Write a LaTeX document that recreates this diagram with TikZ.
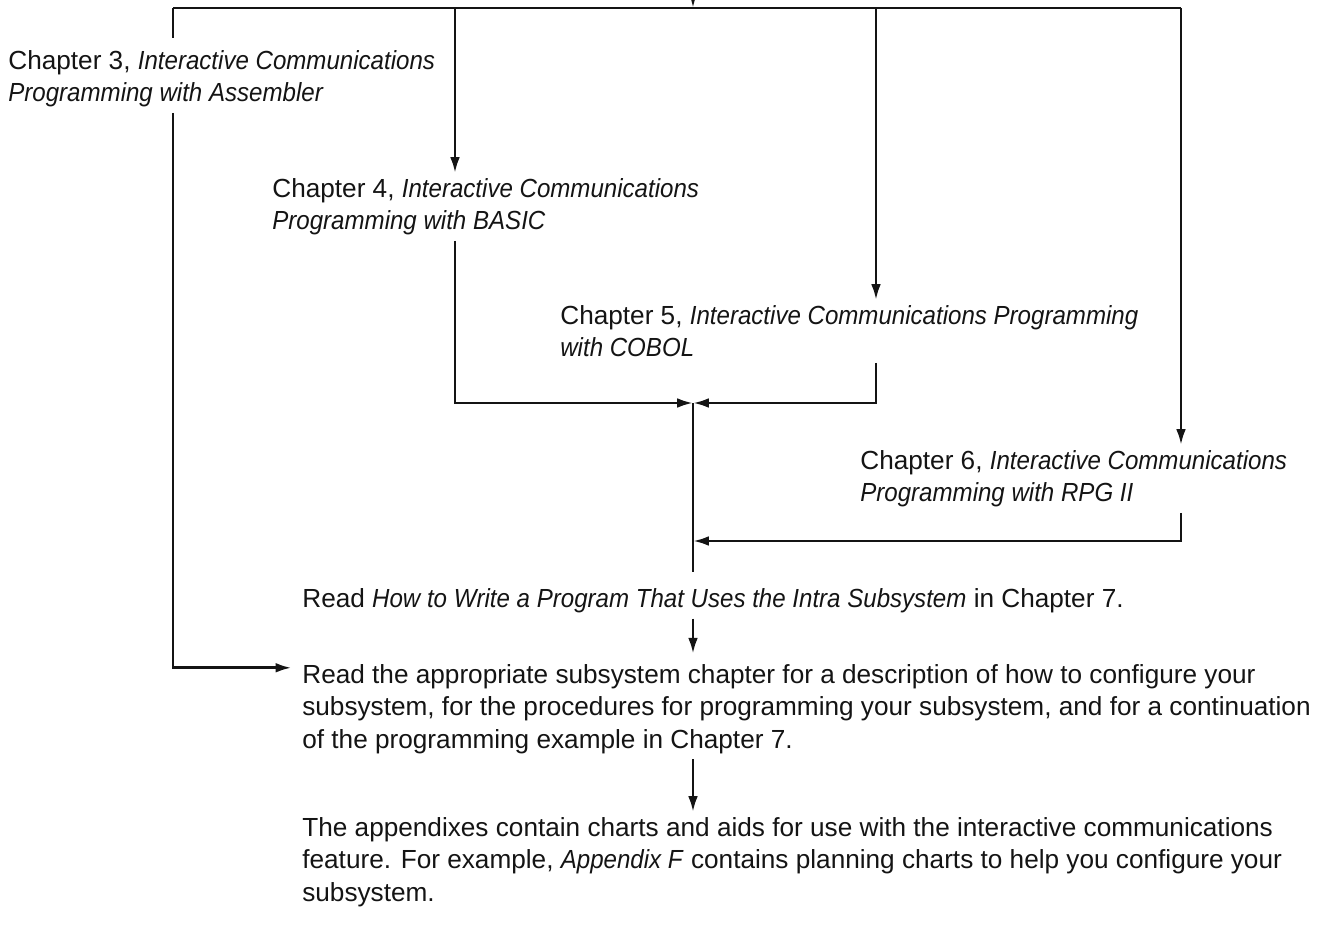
\documentclass[tikz,border=0pt]{standalone}
\usepackage{fontspec}
\setmainfont{Liberation Sans}[ItalicFeatures={FakeStretch=0.92}]
\usepackage{tikz}
\usetikzlibrary{
  arrows.meta,
  positioning,
  calc
}
\definecolor{InkBlack}{RGB}{20,20,20}
\tikzset{
  chapter/.style={anchor=north west,inner xsep=0pt,inner ysep=3pt,align=left,text=InkBlack,font=\fontsize{14.9}{18.4}\selectfont},
  route/.style={line width=1.5pt,draw=InkBlack},
  flow/.style={-{Latex[length=9pt,width=5.5pt]},line width=1.5pt,draw=InkBlack}
}

\begin{document}
\begin{tikzpicture}[x=0.02cm,y=-0.02cm]
\useasboundingbox (0,0) rectangle (1320,936);
\node[chapter] (ch3) at (8,45) {Chapter 3, \textit{Interactive Communications}\\\textit{Programming with Assembler}};
\node[chapter] (ch4) at (272,173) {Chapter 4, \textit{Interactive Communications}\\\textit{Programming with BASIC}};
\node[chapter] (ch5) at (560,300) {Chapter 5, \textit{Interactive Communications Programming}\\\textit{with COBOL}};
\node[chapter] (ch6) at (860,445) {Chapter 6, \textit{Interactive Communications}\\\textit{Programming with RPG II}};
\node[chapter] (intra) at (302,583) {Read \textit{How to Write a Program That Uses the Intra Subsystem} in Chapter 7.};
\node[chapter] (subsys) at (302,659) {Read the appropriate subsystem chapter for a description of how to configure your\\subsystem, for the procedures for programming your subsystem, and for a continuation\\of the programming example in Chapter 7.};
\node[chapter] (appx) at (302,812) {The appendixes contain charts and aids for use with the interactive communications\\feature.  For example, \textit{Appendix F} contains planning charts to help you configure your\\subsystem.};

% bus along the top
\coordinate (in) at (693,-20);
\coordinate (feed) at (693,8);
\coordinate (bus3) at (173,8);
\coordinate (bus4) at (455,8);
\coordinate (bus5) at (876,8);
\coordinate (bus6) at (1181,8);
\coordinate (join) at (693,403);
\coordinate (join6) at (693,541);

\draw[flow] (in) -- (feed);
\draw[route] (bus3) -- (bus6);
\draw[route] (bus3) -- ([yshift=4pt]ch3.north -| bus3);
\draw[flow] (ch3.south -| bus3) |- ([shift={(-6pt,-5pt)}]subsys.north west);
\draw[flow] (bus4) -- (ch4.north -| bus4);
\draw[flow] (bus5) -- (ch5.north -| bus5);
\draw[flow] (bus6) -- (ch6.north -| bus6);

% merge into the middle column
\draw[flow] (ch4.south -| bus4) |- (join);
\draw[flow] (ch5.south -| bus5) |- (join);
\draw[flow] (ch6.south -| bus6) |- (join6);
\draw[route] (join) -- ([yshift=6pt]intra.north -| join);
\draw[flow] (intra.south -| join) -- ([yshift=3pt]subsys.north -| join);
\draw[flow] (subsys.south -| join) -- (appx.north -| join);
\end{tikzpicture}
\end{document}
